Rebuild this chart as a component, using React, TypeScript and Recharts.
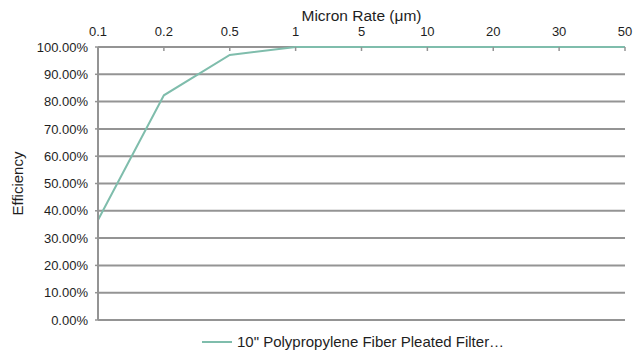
import React from "react";
import {
  LineChart,
  Line,
  XAxis,
  YAxis,
  CartesianGrid,
  Legend,
} from "recharts";

const micronSizes = ["0.1", "0.2", "0.5", "1", "5", "10", "20", "30", "50"];
const efficiency = [36.6, 82.3, 97.1, 100, 100, 100, 100, 100, 100];
const yTicks = [0, 10, 20, 30, 40, 50, 60, 70, 80, 90, 100];
const yMinorTicks = [5, 15, 25, 35, 45, 55, 65, 75, 85, 95];
const seriesName = '10" Polypropylene Fiber Pleated Filter…';

const data = micronSizes.map((size, i) => ({
  size,
  efficiency: efficiency[i],
}));

const FONT = "'Liberation Sans', Arial, sans-serif";
const TEXT = "#1e1e1e";
const GRID = "#949494";
const LINE = "#7fbdac";

const YTitle = (props: any) => {
  const vb = props.viewBox;
  const x = vb.x + 9;
  const y = vb.y + vb.height / 2;
  return (
    <text
      x={x}
      y={y}
      transform={`rotate(-90, ${x}, ${y})`}
      textAnchor='middle'
      dominantBaseline='central'
      fontFamily={FONT}
      fontSize={15}
      fill={TEXT}
    >
      Efficiency
    </text>
  );
};

const LegendContent = () => (
  <div
    style={{
      display: "flex",
      alignItems: "center",
      fontFamily: FONT,
      fontSize: 15,
      color: TEXT,
      whiteSpace: "nowrap",
    }}
  >
    <svg width={31} height={10}>
      <line x1={0} y1={5} x2={30} y2={5} stroke={LINE} strokeWidth={2} />
    </svg>
    <span style={{ marginLeft: 4 }}>{seriesName}</span>
  </div>
);

export default function App() {
  return (
    <div
      style={{
        position: "absolute",
        left: 0,
        top: 0,
        width: 642,
        height: 358,
        background: "#fff",
      }}
    >
      <LineChart
        width={642}
        height={358}
        data={data}
        margin={{ top: 23, right: 17, bottom: 38, left: 8 }}
      >
        {/* grid's 100% line doubles as the top axis line so the series can sit over it */}
        <CartesianGrid vertical={false} stroke={GRID} strokeWidth={2} />
        <XAxis
          dataKey='size'
          orientation='top'
          height={24}
          interval={0}
          tickSize={-4}
          tickMargin={15}
          tick={{ fontSize: 13, fill: TEXT, fontFamily: FONT }}
          axisLine={false}
          tickLine={{ stroke: GRID, strokeWidth: 1.5 }}
          label={{
            value: "Micron Rate (μm)",
            position: "top",
            offset: 2,
            fontSize: 15.5,
            fill: TEXT,
            fontFamily: FONT,
          }}
        />
        <YAxis
          width={90}
          domain={[0, 100]}
          ticks={yTicks}
          interval={0}
          tickSize={3}
          tickMargin={7}
          tickFormatter={(v: number) => `${v.toFixed(2)}%`}
          tick={{ fontSize: 13, fill: TEXT, fontFamily: FONT }}
          axisLine={{ stroke: GRID, strokeWidth: 2 }}
          tickLine={{ stroke: GRID, strokeWidth: 1.5 }}
          label={{ content: <YTitle /> }}
        />
        <YAxis
          yAxisId='minor'
          mirror
          width={0}
          domain={[0, 100]}
          ticks={yMinorTicks}
          interval={0}
          tickSize={3}
          tick={false}
          axisLine={false}
          tickLine={{ stroke: GRID, strokeWidth: 1.5 }}
        />
        <Legend
          verticalAlign='middle'
          align='center'
          wrapperStyle={{ left: 202, top: 333, width: 420 }}
          content={<LegendContent />}
        />
        <Line
          type='linear'
          dataKey='efficiency'
          name={seriesName}
          stroke={LINE}
          strokeWidth={2}
          dot={false}
          isAnimationActive={false}
        />
      </LineChart>
    </div>
  );
}
